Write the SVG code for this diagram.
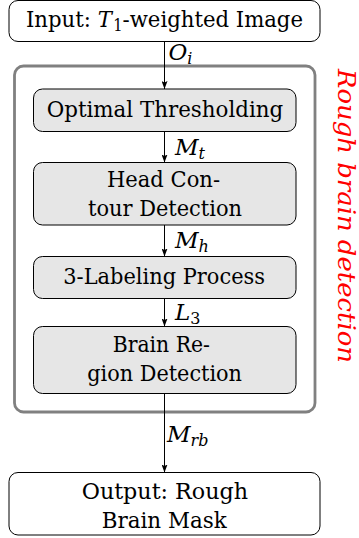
<svg xmlns="http://www.w3.org/2000/svg" width="359" height="538" viewBox="0 0 359 538">
  <style>
    .box { fill: #ffffff; stroke: #000000; stroke-width: 1; }
    .step { fill: #e6e6e6; stroke: #000000; stroke-width: 1; }
    .group { fill: none; stroke: #808080; stroke-width: 2.8; }
    .txt { font-family: "DejaVu Serif", "Liberation Serif", serif; font-size: 23px; fill: #000000; }
    .math { font-family: "DejaVu Serif", "Liberation Serif", serif; font-size: 23px; font-style: italic; fill: #000000; }
    .sub { font-size: 16px; }
    .up { font-style: normal; }
    .edge { stroke: #000000; stroke-width: 1; fill: none; marker-end: url(#tip); }
    .title { font-family: "DejaVu Serif", "Liberation Serif", serif; font-size: 24px; font-style: italic; fill: #ff0000; }
  </style>
  <defs>
    <marker id="tip" viewBox="0 0 8 6" refX="8" refY="3" markerWidth="8" markerHeight="6" markerUnits="userSpaceOnUse" orient="auto">
      <path d="M0,0 L8,3 L0,6 L1.5,3 Z" fill="#000000"/>
    </marker>
  </defs>

  <!-- enclosing stage frame -->
  <g id="rough-stage">
    <rect class="group" x="14.5" y="66" width="300.5" height="346" rx="9"/>
    <text class="title" transform="translate(337.5,69) rotate(90)" textLength="294" lengthAdjust="spacingAndGlyphs">Rough brain detection</text>
  </g>

  <g id="input">
    <rect class="box" x="9" y="0.5" width="311" height="41" rx="9"/>
    <text class="txt" x="26" y="26.5" textLength="277" lengthAdjust="spacingAndGlyphs">Input: <tspan font-style="italic">T</tspan><tspan class="sub" dx="1.5" dy="4">1</tspan><tspan dy="-4">-weighted Image</tspan></text>
  </g>

  <g id="thresholding">
    <rect class="step" x="33.5" y="89" width="262.5" height="42.5" rx="9"/>
    <text class="txt" x="46.7" y="117.3" textLength="236.6" lengthAdjust="spacingAndGlyphs">Optimal Thresholding</text>
  </g>

  <g id="head-contour">
    <rect class="step" x="33.5" y="162.5" width="262.5" height="62.5" rx="9"/>
    <text class="txt" x="107" y="187.3" textLength="113" lengthAdjust="spacingAndGlyphs">Head Con-</text>
    <text class="txt" x="88" y="216" textLength="154" lengthAdjust="spacingAndGlyphs">tour Detection</text>
  </g>

  <g id="labeling">
    <rect class="step" x="33.5" y="256.5" width="262.5" height="42" rx="9"/>
    <text class="txt" x="63.3" y="283.5" textLength="201.7" lengthAdjust="spacingAndGlyphs">3-Labeling Process</text>
  </g>

  <g id="brain-region">
    <rect class="step" x="33.5" y="326.5" width="262.5" height="67" rx="9"/>
    <text class="txt" x="112.7" y="352.3" textLength="97.3" lengthAdjust="spacingAndGlyphs">Brain Re-</text>
    <text class="txt" x="87.3" y="380.7" textLength="154.7" lengthAdjust="spacingAndGlyphs">gion Detection</text>
  </g>

  <g id="output">
    <rect class="box" x="9" y="472.5" width="311" height="62.5" rx="9"/>
    <text class="txt" x="81.7" y="499" textLength="166.3" lengthAdjust="spacingAndGlyphs">Output: Rough</text>
    <text class="txt" x="101.7" y="527.7" textLength="125" lengthAdjust="spacingAndGlyphs">Brain Mask</text>
  </g>

  <!-- connectors with their signal labels -->
  <g id="connectors">
    <line class="edge" x1="164.5" y1="41.5" x2="164.5" y2="89"/>
    <text class="math" x="168.5" y="59.5">O<tspan class="sub" dy="4">i</tspan></text>

    <line class="edge" x1="164.5" y1="131.5" x2="164.5" y2="162.5"/>
    <text class="math" x="175" y="155">M<tspan class="sub" dy="4">t</tspan></text>

    <line class="edge" x1="164.5" y1="225" x2="164.5" y2="256.5"/>
    <text class="math" x="175" y="248.3">M<tspan class="sub" dy="4">h</tspan></text>

    <line class="edge" x1="164.5" y1="298.5" x2="164.5" y2="326.5"/>
    <text class="math" x="175" y="320">L<tspan class="sub up" dy="4">3</tspan></text>

    <line class="edge" x1="164.5" y1="393.5" x2="164.5" y2="472.5"/>
    <text class="math" x="167" y="441.7">M<tspan class="sub" dy="4">rb</tspan></text>
  </g>
</svg>
